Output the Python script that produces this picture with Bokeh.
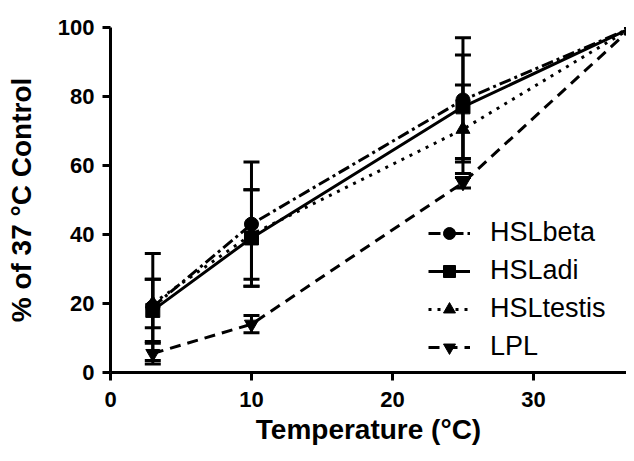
from bokeh.plotting import figure
from bokeh.models import Range1d, Whisker, TeeHead, ColumnDataSource, FixedTicker, Legend, LegendItem
from bokeh.embed import file_html
from bokeh.resources import INLINE

temps = [3, 10, 25, 37]
series_names = ["HSLbeta", "HSLadi", "HSLtestis", "LPL"]
hslbeta = [19, 43, 79, 100]
hslbeta_err = [15.5, 18, 18, 0]
hsladi = [18, 39, 77, 100]
hsladi_err = [9, 14, 15, 0]
hsltestis = [20, 40, 70.5, 100]
hsltestis_err = [7, 13, 12.8, 0]
lpl = [5.5, 14, 55, 100]
lpl_err = [3, 2.5, 1.5, 0]
x_ticks = [0, 10, 20, 30]
y_ticks = [0, 20, 40, 60, 80, 100]
x_title = "Temperature (°C)"
y_title = "% of 37 °C Control"

FONT = "Liberation Sans"

p = figure(width=626, height=453, output_backend="svg", toolbar_location=None,
           x_range=Range1d(0, 36.6), y_range=Range1d(0, 100),
           min_border_left=110, min_border_right=0, min_border_top=27, min_border_bottom=81)
p.outline_line_color = None
p.grid.visible = False
p.background_fill_color = "white"

for ax in (p.xaxis[0], p.yaxis[0]):
    ax.axis_line_width = 3
    ax.major_tick_line_width = 3
    ax.major_tick_out = 8
    ax.major_tick_in = 0
    ax.minor_tick_line_color = None
    ax.major_label_text_font = FONT
    ax.major_label_text_font_style = "bold"
    ax.major_label_text_font_size = "22px"
    ax.major_label_text_color = "black"
    ax.axis_label_text_font = FONT
    ax.axis_label_text_font_style = "bold"
    ax.axis_label_text_font_size = "28px"
    ax.axis_label_text_color = "black"
    ax.axis_line_color = "black"
    ax.major_tick_line_color = "black"

p.xaxis.ticker = FixedTicker(ticks=x_ticks)
p.yaxis.ticker = FixedTicker(ticks=y_ticks)
p.xaxis.axis_label = x_title
p.yaxis.axis_label = y_title
p.xaxis.major_label_standoff = 11
p.xaxis.axis_label_standoff = 4
p.yaxis.major_label_standoff = 8
p.yaxis.axis_label_standoff = 18

vals = [hslbeta, hsladi, hsltestis, lpl]
errs = [hslbeta_err, hsladi_err, hsltestis_err, lpl_err]
dashes = ["12 4 3 4", "solid", "3 6", "11 7"]
markers = ["circle", "square", "triangle", "inverted_triangle"]
sizes = [14, 14, 14, 14]

items = []
for name, v, e, d, m, s in zip(series_names, vals, errs, dashes, markers, sizes):
    src = ColumnDataSource(dict(x=temps, y=v,
                                upper=[a + b for a, b in zip(v, e)],
                                lower=[a - b for a, b in zip(v, e)]))
    w = Whisker(source=src, base="x", upper="upper", lower="lower",
                line_width=3, line_color="black",
                upper_head=TeeHead(size=16, line_width=3, line_color="black"),
                lower_head=TeeHead(size=16, line_width=3, line_color="black"))
    p.add_layout(w)
    r1 = p.line("x", "y", source=src, line_width=3, line_color="black", line_dash=d)
    r2 = p.scatter("x", "y", source=src, marker=m, size=s, fill_color="black", line_color="black")
    items.append(LegendItem(label=name, renderers=[r1, r2]))

legend = Legend(items=items, location=(318, 10), border_line_color=None,
                background_fill_alpha=0, label_text_font=FONT, label_text_font_size="27px",
                label_text_color="black",
                glyph_width=42, glyph_height=30, label_height=30, spacing=7,
                padding=0, margin=0, label_standoff=20)
p.add_layout(legend, "center")

open("out.html", "w").write(file_html(p, INLINE))
